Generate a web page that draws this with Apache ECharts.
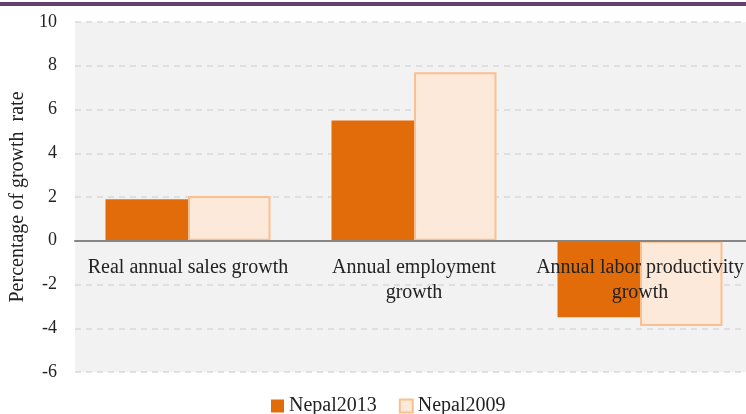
<!DOCTYPE html>
<html><head><meta charset="utf-8">
<script src="https://cdn.jsdelivr.net/npm/echarts@6/dist/echarts.min.js"></script>
<style>html,body{margin:0;padding:0;background:#fff}#c{width:746px;height:414px}</style>
</head><body>
<div id="c"></div>
<script>
const categories = ['Real annual sales growth', 'Annual employment\ngrowth', 'Annual labor productivity\ngrowth'];
const nepal2013 = [1.9, 5.5, -3.5];
const nepal2009 = [2.05, 7.7, -3.9];
const seriesNames = ['Nepal2013', 'Nepal2009'];
const yTitle = 'Percentage of growth  rate';
const yMin = -6, yMax = 10, yStep = 2;

const FONT = 'Liberation Serif';
const GRID_H = 350;
const chart = echarts.init(document.getElementById('c'));
chart.setOption({
  animation: false,
  textStyle: { fontFamily: FONT },
  graphic: [{ type: 'rect', shape: { x: 0, y: 2, width: 746, height: 4 }, style: { fill: '#68406F' }, silent: true }],
  grid: { left: 75, top: 22, width: 678, height: GRID_H, show: true, backgroundColor: '#F2F2F2', borderWidth: 0,
          outerBoundsMode: 'none', containLabel: false },
  legend: {
    bottom: -7, left: 266, itemWidth: 13, itemHeight: 13, itemGap: 22,
    textStyle: { fontFamily: FONT, fontSize: 20, color: '#222' },
    data: seriesNames.map(n => ({ name: n, icon: 'rect' }))
  },
  xAxis: {
    type: 'category', data: categories, z: 5,
    offset: -GRID_H * (0 - yMin) / (yMax - yMin),
    axisLine: { onZero: false, lineStyle: { color: '#868686', width: 2 } },
    axisTick: { show: false },
    axisLabel: { fontFamily: FONT, fontSize: 20, color: '#222', lineHeight: 25, margin: 14, interval: 0 }
  },
  yAxis: {
    type: 'value', min: yMin, max: yMax, interval: yStep,
    name: yTitle, nameLocation: 'middle', nameGap: 46,
    nameTextStyle: { fontFamily: FONT, fontSize: 20, color: '#222' },
    axisLine: { show: false }, axisTick: { show: false },
    axisLabel: { fontFamily: FONT, fontSize: 18, color: '#222', margin: 18 },
    splitLine: { lineStyle: { color: '#D9D9D9', type: [6, 5], width: 1.5 } }
  },
  series: [
    { name: seriesNames[0], type: 'bar', data: nepal2013, barGap: '0%', barCategoryGap: '27%',
      itemStyle: { color: '#E36C0A' } },
    { name: seriesNames[1], type: 'bar', data: nepal2009, barGap: '0%', barCategoryGap: '27%',
      itemStyle: { color: '#FDE9D9', borderColor: '#FAC090', borderWidth: 2 } }
  ]
});
</script>
</body></html>
